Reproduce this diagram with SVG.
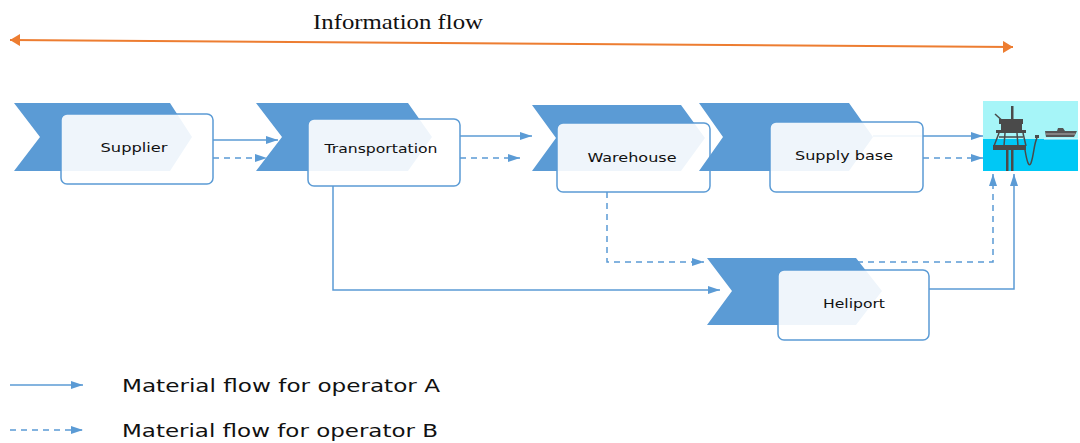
<svg xmlns="http://www.w3.org/2000/svg" width="1080" height="443" viewBox="0 0 1080 443">
  <style>
    .chev { fill: #5B9BD5; }
    .box { fill: #FFFFFF; fill-opacity: 0.9; stroke: #5B9BD5; stroke-width: 1.5; }
    .lbl { font-family: "DejaVu Sans", "Liberation Sans", sans-serif; font-size: 13px; fill: #111; }
    .flow { fill: none; stroke: #5B9BD5; stroke-width: 1.5; }
    .dash { stroke-dasharray: 6 5; }
    .leg { font-family: "DejaVu Sans", "Liberation Sans", sans-serif; font-size: 18px; fill: #111; }
    .rig { fill: #4A4A4A; }
    .rigl { stroke: #4A4A4A; stroke-width: 1.5; fill: none; }
  </style>
  <defs>
    <marker id="ah" viewBox="0 0 12 8" refX="12" refY="4" markerWidth="12" markerHeight="8" markerUnits="userSpaceOnUse" orient="auto">
      <path d="M0,0 L12,4 L0,8 Z" fill="#5B9BD5"/>
    </marker>
    <marker id="oa" viewBox="0 0 10 12" refX="10" refY="6" markerWidth="10" markerHeight="12" markerUnits="userSpaceOnUse" orient="auto-start-reverse">
      <path d="M0,0 L10,6 L0,12 Z" fill="#ED7D31"/>
    </marker>
  </defs>

  <rect width="1080" height="443" fill="#FFFFFF"/>

  <!-- information flow -->
  <g id="info-flow">
    <line x1="10" y1="40" x2="1013" y2="47" stroke="#ED7D31" stroke-width="2" marker-start="url(#oa)" marker-end="url(#oa)"/>
    <text x="313" y="29" font-family="Liberation Serif, serif" font-size="21" fill="#111" textLength="170" lengthAdjust="spacingAndGlyphs">Information  flow</text>
  </g>

  <!-- connectors -->
  <g id="connectors">
    <line class="flow" x1="213" y1="140" x2="278" y2="140" marker-end="url(#ah)"/>
    <line class="flow dash" x1="213" y1="158" x2="267" y2="158" marker-end="url(#ah)"/>
    <line class="flow" x1="460" y1="136" x2="532" y2="136" marker-end="url(#ah)"/>
    <line class="flow dash" x1="460" y1="158" x2="520" y2="158" marker-end="url(#ah)"/>
    <line class="flow" x1="873" y1="136" x2="983" y2="136" marker-end="url(#ah)"/>
    <line class="flow dash" x1="923" y1="158" x2="983" y2="158" marker-end="url(#ah)"/>
    <polyline class="flow" points="333,186 333,290 720,290" marker-end="url(#ah)"/>
    <polyline class="flow dash" points="607,192 607,262 704,262" marker-end="url(#ah)"/>
    <polyline class="flow dash" points="857,262 993,262 993,174" marker-end="url(#ah)"/>
    <polyline class="flow" points="929,289 1014,289 1014,174" marker-end="url(#ah)"/>
  </g>

  <!-- nodes -->
  <g id="supplier">
    <polygon class="chev" points="14,103 170,103 192,137 170,171 14,171 40,137"/>
    <rect class="box" x="61" y="114" width="152" height="70" rx="6"/>
    <text class="lbl" x="134" y="152" text-anchor="middle" textLength="67" lengthAdjust="spacingAndGlyphs">Supplier</text>
  </g>

  <g id="transportation">
    <polygon class="chev" points="256,103 408,103 432,137 408,171 256,171 282,137"/>
    <rect class="box" x="308" y="119" width="152" height="67" rx="6"/>
    <text class="lbl" x="381" y="153" text-anchor="middle" textLength="113" lengthAdjust="spacingAndGlyphs">Transportation</text>
  </g>

  <g id="warehouse">
    <polygon class="chev" points="532,105 681,105 705,138 681,171 532,171 556,138"/>
    <rect class="box" x="557" y="123" width="153" height="69" rx="6"/>
    <text class="lbl" x="632" y="162" text-anchor="middle" textLength="89" lengthAdjust="spacingAndGlyphs">Warehouse</text>
  </g>

  <g id="supply-base">
    <polygon class="chev" points="699,103 849,103 873,137 849,171 699,171 723,137"/>
    <rect class="box" x="770" y="122" width="153" height="70" rx="6"/>
    <text class="lbl" x="844" y="160" text-anchor="middle" textLength="98" lengthAdjust="spacingAndGlyphs">Supply base</text>
  </g>

  <g id="heliport">
    <polygon class="chev" points="707,258 856,258 882,291 856,325 707,325 732,291"/>
    <rect class="box" x="778" y="270" width="151" height="70" rx="6"/>
    <text class="lbl" x="854" y="308" text-anchor="middle" textLength="62" lengthAdjust="spacingAndGlyphs">Heliport</text>
  </g>

  <!-- offshore platform picture -->
  <g id="platform">
    <rect x="983" y="101" width="95" height="38" fill="#A6F5F8"/>
    <rect x="983" y="139" width="95" height="32" fill="#00C8F5"/>
    <!-- derrick and crane -->
    <rect class="rig" x="1011" y="106" width="2.5" height="20"/>
    <line class="rigl" x1="995" y1="114" x2="1006" y2="124"/>
    <!-- topside modules -->
    <rect class="rig" x="999" y="119" width="24" height="5"/>
    <rect class="rig" x="1001" y="124" width="21" height="6"/>
    <rect class="rig" x="996" y="130" width="30" height="3"/>
    <!-- jacket between decks -->
    <path class="rigl" d="M999,133 L994,146 M1023,133 L1026,146 M1005,133 L1004,146 M1017,133 L1018,146 M999,137 L1023,137"/>
    <rect class="rig" x="993" y="145" width="33" height="5"/>
    <!-- legs -->
    <rect class="rig" x="1006" y="150" width="2.5" height="21"/>
    <rect class="rig" x="1011" y="150" width="2.5" height="21"/>
    <!-- riser hose -->
    <path class="rigl" d="M1025,150 C1027,162 1029,168 1031,163 C1034,155 1034,143 1037,138" stroke-width="1.2"/>
    <rect x="1035" y="135" width="4" height="3" fill="#4A4A4A"/>
    <!-- supply vessel -->
    <path d="M1046,137 L1074,137 L1077,131 L1065,131 L1063,128 L1058,128 L1057,131 L1045,131 Z" fill="#555555"/>
    <line x1="1046" y1="134" x2="1075" y2="134" stroke="#CCCCCC" stroke-width="0.8"/>
    <line x1="1044" y1="139" x2="1078" y2="139" stroke="#E0F8FC" stroke-width="1.2"/>
  </g>

  <!-- legend -->
  <g id="legend">
    <line class="flow" x1="10" y1="385" x2="83" y2="385" marker-end="url(#ah)"/>
    <text class="leg" x="122" y="392" textLength="318" lengthAdjust="spacingAndGlyphs">Material flow for operator A</text>
    <line class="flow dash" x1="10" y1="430" x2="83" y2="430" marker-end="url(#ah)"/>
    <text class="leg" x="122" y="437" textLength="316" lengthAdjust="spacingAndGlyphs">Material flow for operator B</text>
  </g>
</svg>
